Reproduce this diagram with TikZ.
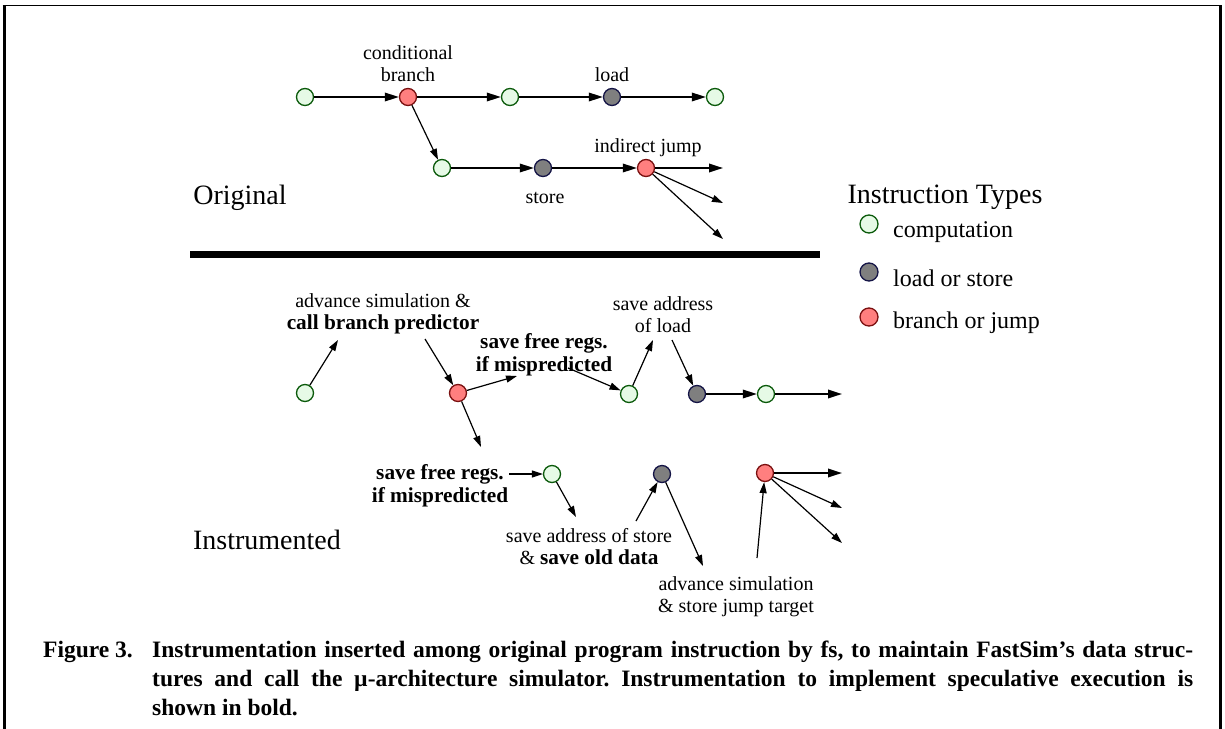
\documentclass[tikz,border=0pt]{standalone}
\usepackage{fontspec}
\setmainfont{Liberation Serif}
\usetikzlibrary{arrows.meta}

\definecolor{compfill}{HTML}{E6FAE6}
\definecolor{compline}{HTML}{0B5A0B}
\definecolor{memfill}{HTML}{7F7F7F}
\definecolor{memline}{HTML}{141446}
\definecolor{brfill}{HTML}{FF7F7F}
\definecolor{brline}{HTML}{7A1010}

\tikzset{
  insn/.style={circle, minimum size=17pt, inner sep=0pt, line width=1.3pt},
  comp/.style={insn, fill=compfill, draw=compline},
  mem/.style={insn, fill=memfill, draw=memline},
  br/.style={insn, fill=brfill, draw=brline},
  flow/.style={line width=1.8pt, -{Triangle[length=14pt,width=8.5pt]}},
  note/.style={line width=1.2pt, -{Triangle[length=11pt,width=7pt]}},
  lbl/.style={font=\fontsize{20}{22}\selectfont, inner sep=0pt, align=center},
  blbl/.style={lbl, font=\fontsize{21.3}{23}\selectfont\bfseries},
  big/.style={font=\fontsize{28}{32}\selectfont, inner sep=0pt},
  leg/.style={font=\fontsize{24}{28}\selectfont, inner sep=0pt, anchor=west},
  captxt/.style={font=\fontsize{23.5}{26}\selectfont\bfseries, inner sep=0pt, anchor=base west},
}
\newcommand{\bolder}[1]{{\fontsize{21.3}{22}\selectfont\bfseries #1}}

\begin{document}
\begin{tikzpicture}[x=1pt,y=-1pt]
\useasboundingbox (0,0) rectangle (1225,728);

% page frame
\draw[line width=1.3pt] (2.7,5.3) -- (1222,5.3);
\draw[line width=3pt] (4.2,5) -- (4.2,730);
\draw[line width=3pt] (1220.5,5) -- (1220.5,730);

% ---------------- original program ----------------
\node[comp] (n1) at (305,97) {};
\node[br]   (n2) at (408,97) {};
\node[comp] (n3) at (510,97) {};
\node[mem]  (n4) at (612,97) {};
\node[comp] (n5) at (715,97) {};
\node[comp] (m1) at (442,168) {};
\node[mem]  (m2) at (543,168) {};
\node[br]   (m3) at (646,168) {};
\coordinate (e1) at (723,168);
\coordinate (e2) at (723,203);
\coordinate (e3) at (723,239);

\draw[flow] (n1) -- (n2);
\draw[flow] (n2) -- (n3);
\draw[flow] (n3) -- (n4);
\draw[flow] (n4) -- (n5);
\draw[note] (n2) -- (m1);
\draw[flow] (m1) -- (m2);
\draw[flow] (m2) -- (m3);
\draw[flow] (m3) -- (e1);
\draw[note] (m3) -- (e2);
\draw[note] (m3) -- (e3);

\node[lbl] (cb) at (408,64) {conditional\\branch};
\node[lbl] (ld) at (612,75) {load};
\node[lbl] (ij) at (648,148) {indirect jump};
\node[lbl] (st) at (545,198) {store};
\node[big] (orig) at (240,198) {Original};

% separator
\draw[line width=7pt] (190,254) -- (820,254);

% ---------------- legend ----------------
\node[big] (lt) at (945,197) {Instruction Types};
\node[comp, minimum size=18pt] (lc) at (869,224) {};
\node[mem,  minimum size=18pt] (lm) at (869,272) {};
\node[br,   minimum size=18pt] (lb) at (869,317) {};
\node[leg] (lct) at (893,232) {computation};
\node[leg] (lmt) at (893,278) {load or store};
\node[leg] (lbt) at (893,323) {branch or jump};

% ---------------- instrumented program ----------------
\node[comp] (g1) at (305,393) {};
\node[br]   (r1) at (458,393) {};
\node[comp] (g2) at (629,394) {};
\node[mem]  (k1) at (697,394) {};
\node[comp] (g3) at (766,394) {};
\coordinate (tA) at (842,394);

\node[comp] (g4) at (552,474) {};
\node[mem]  (k2) at (662,474) {};
\node[br]   (r2) at (765,473) {};
\coordinate (x1) at (842,473);
\coordinate (x2) at (842,508);
\coordinate (x3) at (842,543);

\node[lbl] (la) at (383,314) {advance simulation \&\\\bolder{call branch predictor}};
\node[blbl] (lb) at (544,355) {save free regs.\\if mispredicted};
\node[lbl] (lc2) at (663,315) {save address\\of load};
\node[blbl] (ld2) at (440,486) {save free regs.\\if mispredicted};
\node[lbl] (le) at (589,547) {save address of store\\\& \bolder{save old data}};
\node[lbl] (lf) at (736,597) {advance simulation\\\& store jump target};
\node[big] (instr) at (267,540) {Instrumented};

\coordinate (aIn)  at (338,340);
\coordinate (aOut) at (425,339);
\coordinate (bIn)  at (517,376);
\coordinate (bOut) at (568,368);
\coordinate (cIn)  at (653,340);
\coordinate (cOut) at (672,340);
\coordinate (dIn)  at (481,447);
\coordinate (dOut) at (509,474);
\coordinate (eIn)  at (576,517);
\coordinate (eOut) at (636,521);
\coordinate (fIn)  at (703,566);
\coordinate (fOut) at (757,558);

\draw[note] (g1) -- (aIn);
\draw[note] (aOut) -- (r1);
\draw[note] (r1) -- (bIn);
\draw[note] (bOut) -- (g2);
\draw[note] (g2) -- (cIn);
\draw[note] (cOut) -- (k1);
\draw[flow] (k1) -- (g3);
\draw[flow] (g3) -- (tA);
\draw[note] (r1) -- (dIn);
\draw[note] (dOut) -- (g4);
\draw[note] (g4) -- (eIn);
\draw[note] (eOut) -- (k2);
\draw[note] (k2) -- (fIn);
\draw[note] (fOut) -- (r2);
\draw[flow] (r2) -- (x1);
\draw[note] (r2) -- (x2);
\draw[note] (r2) -- (x3);

% ---------------- caption ----------------
\node[captxt] (fig) at (43,657) {Figure 3.};
\node[captxt] (cap1) at (152,657) {\frenchspacing\makebox[1041pt][s]{Instrumentation inserted among original program instruction by fs, to maintain FastSim’s data struc-}};
\node[captxt] (cap2) at (152,686) {\frenchspacing\makebox[1041pt][s]{tures and call the µ-architecture simulator. Instrumentation to implement speculative execution is}};
\node[captxt] (cap3) at (152,715) {shown in bold.};
\end{tikzpicture}
\end{document}
